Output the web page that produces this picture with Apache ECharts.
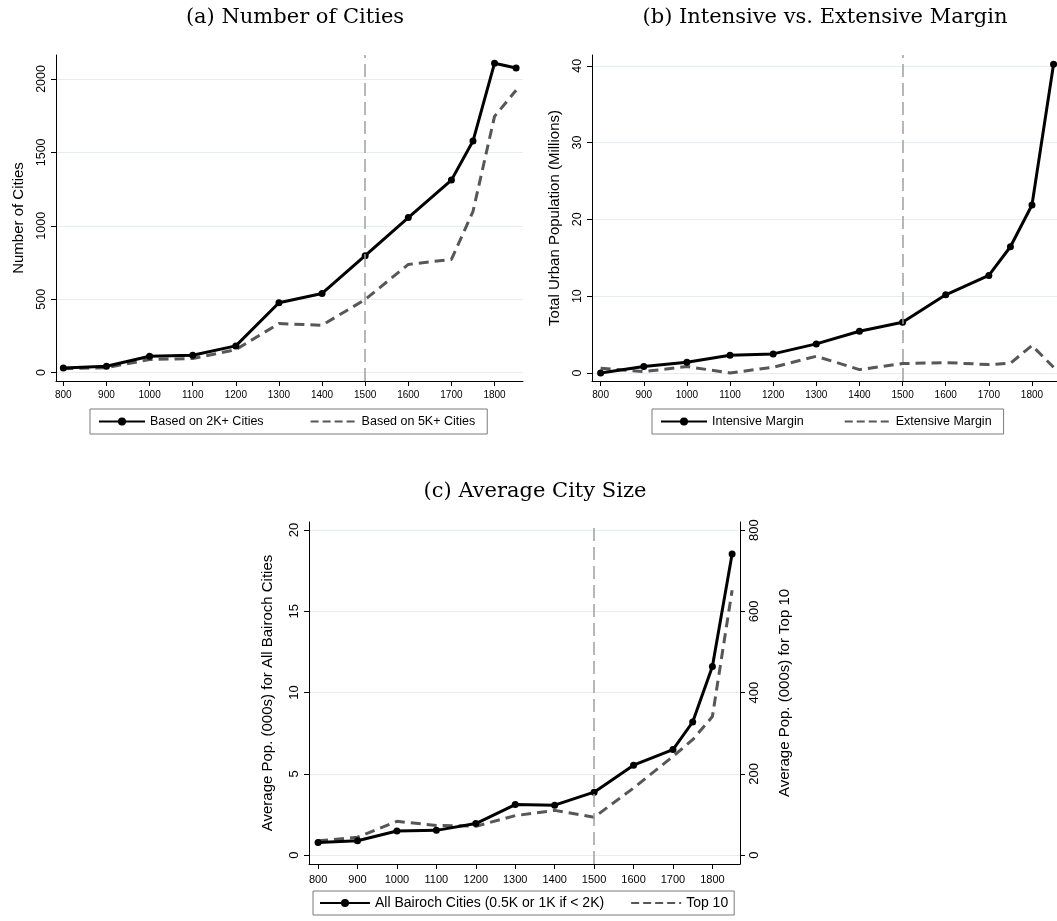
<!DOCTYPE html>
<html>
<head>
<meta charset="utf-8">
<script src="https://cdn.jsdelivr.net/npm/echarts@6.0.0/dist/echarts.min.js"></script>
<style>
  html, body { margin: 0; padding: 0; background: #fff; }
  #chart { width: 1057px; height: 921px; }
</style>
</head>
<body>
<div id="chart"></div>
<script>
// years on the x axis (1750 is an extra point)
var years = [800, 900, 1000, 1100, 1200, 1300, 1400, 1500, 1600, 1700, 1750, 1800, 1850];

// (a) number of cities
var citiesTwoK = [32, 43, 111, 118, 182, 476, 539, 796, 1056, 1311, 1577, 2107, 2075];
var citiesFiveK = [27, 34, 89, 96, 157, 334, 323, 498, 737, 771, 1097, 1745, 1923];

// (b) total urban population, millions
var intensiveMargin = [0, 0.83, 1.39, 2.3, 2.48, 3.78, 5.43, 6.6, 10.17, 12.7, 16.43, 21.87, 40.2];
var extensiveMargin = [0.6, 0.17, 0.83, 0, 0.74, 2.17, 0.43, 1.22, 1.35, 1.09, 1.26, 3.57, 0.74];

// (c) average city size, 000s
var avgAllCities = [0.78, 0.88, 1.48, 1.52, 1.94, 3.11, 3.07, 3.87, 5.53, 6.49, 8.19, 11.6, 18.53];
var avgTopTen = [35, 44, 83, 73, 71, 97, 110, 93, 165, 243, 284, 341, 652];

// tick labels
var xTicks = [800, 900, 1000, 1100, 1200, 1300, 1400, 1500, 1600, 1700, 1800];
var yTicksA = [0, 500, 1000, 1500, 2000];
var yTicksB = [0, 10, 20, 30, 40];
var yTicksC = [0, 5, 10, 15, 20];
var yTicksCRight = [0, 200, 400, 600, 800];

var cutoffYear = 1500;

var SANS = "'Liberation Sans', Arial, sans-serif";
var SERIF = "'DejaVu Serif', serif";

function pairs(vals) {
    return years.map(function (y, i) { return [y, vals[i]]; });
}

// plain numbers, no thousands separator
function plain(v) { return String(v); }

function xAxisCfg(idx, min, max, fs, margin) {
    return {
        type: 'value', gridIndex: idx, min: min, max: max,
        axisLine: { show: true, onZero: false, lineStyle: { color: '#000', width: 1 } },
        axisTick: { show: true, length: 5, customValues: xTicks, lineStyle: { color: '#000' } },
        axisLabel: { customValues: xTicks, formatter: plain, fontSize: fs, fontFamily: SANS, color: '#000', margin: margin },
        splitLine: { show: false }
    };
}

function yAxisCfg(idx, min, max, ticks, name, pos, gap, grid, fs) {
    return {
        type: 'value', gridIndex: idx, min: min, max: max, position: pos,
        name: name, nameLocation: 'middle', nameRotate: 90, nameGap: gap,
        nameTextStyle: { fontSize: 15, fontFamily: SANS, color: '#000' },
        axisLine: { show: true, onZero: false, lineStyle: { color: '#000', width: 1 } },
        axisTick: { show: true, length: 5, customValues: ticks, lineStyle: { color: '#000' } },
        axisLabel: { customValues: ticks, formatter: plain, rotate: 90, fontSize: fs, fontFamily: SANS, color: '#000', margin: 8 },
        splitLine: { show: grid, lineStyle: { color: '#e4edf0', width: 1 } }
    };
}

function solidLine(name, x, y, vals) {
    return {
        type: 'line', name: name, xAxisIndex: x, yAxisIndex: y, data: pairs(vals),
        symbol: 'circle', symbolSize: 7, showSymbol: true,
        lineStyle: { color: '#000', width: 3 }, itemStyle: { color: '#000' }, z: 4
    };
}

function dashedLine(name, x, y, vals) {
    return {
        type: 'line', name: name, xAxisIndex: x, yAxisIndex: y, data: pairs(vals),
        symbol: 'none', showSymbol: false,
        lineStyle: { color: '#575757', width: 3, type: [10, 6] }, itemStyle: { color: '#575757' }, z: 3
    };
}

function cutoff() {
    return {
        silent: true, symbol: ['none', 'none'], animation: false,
        label: { show: false },
        lineStyle: { color: '#a0a0a0', width: 1.5, type: [13, 6] },
        data: [{ xAxis: cutoffYear }]
    };
}

function legendCfg(solidName, dashName, left, top, fs, iw, gap, pad) {
    return {
        // dashed entry: hide the dot the line legend icon adds, shorter dashes
        data: [solidName, { name: dashName, itemStyle: { opacity: 0 }, lineStyle: { type: [8, 4] } }],
        left: left, top: top, orient: 'horizontal',
        itemWidth: iw, itemHeight: 10, itemGap: gap, padding: pad,
        borderColor: '#7a7a7a', borderWidth: 1, borderRadius: 0,
        backgroundColor: '#fff', selectedMode: false,
        textStyle: { fontSize: fs, fontFamily: SANS, color: '#000' }
    };
}

var chart = echarts.init(document.getElementById('chart'));

var s1 = solidLine('Based on 2K+ Cities', 0, 0, citiesTwoK);
s1.markLine = cutoff();
var s3 = solidLine('Intensive Margin', 1, 1, intensiveMargin);
s3.markLine = cutoff();
var s5 = solidLine('All Bairoch Cities (0.5K or 1K if < 2K)', 2, 2, avgAllCities);
s5.markLine = cutoff();

var titleStyle = { fontFamily: SERIF, fontSize: 21, fontWeight: 'normal', color: '#000' };

var option = {
    animation: false,
    backgroundColor: '#fff',
    title: [
        { text: '(a) Number of Cities', left: 290, top: 2, textAlign: 'center', textStyle: titleStyle },
        { text: '(b) Intensive vs. Extensive Margin', left: 820, top: 2, textAlign: 'center', textStyle: titleStyle },
        { text: '(c) Average City Size', left: 530, top: 476, textAlign: 'center', textStyle: titleStyle }
    ],
    grid: [
        { left: 56, top: 55, width: 467, height: 326 },
        { left: 592, top: 55, width: 467, height: 326 },
        { left: 309, top: 522, width: 431, height: 342 }
    ],
    xAxis: [
        xAxisCfg(0, 783, 1866, 10, 9),
        xAxisCfg(1, 780, 1858, 10, 9),
        xAxisCfg(2, 777, 1870, 11, 10)
    ],
    yAxis: [
        yAxisCfg(0, -57, 2163, yTicksA, 'Number of Cities', 'left', 30, true, 12.5),
        yAxisCfg(1, -1.05, 41.4, yTicksB, 'Total Urban Population (Millions)', 'left', 30, true, 12.5),
        yAxisCfg(2, -0.55, 20.5, yTicksC, 'Average Pop. (000s) for All Bairoch Cities', 'left', 34, true, 13),
        yAxisCfg(2, -22, 820, yTicksCRight, 'Average Pop. (000s) for Top 10', 'right', 37, false, 13)
    ],
    legend: [
        legendCfg('Based on 2K+ Cities', 'Based on 5K+ Cities', 90, 409, 12.5, 46, 46, [6, 12, 6, 8]),
        legendCfg('Intensive Margin', 'Extensive Margin', 652, 409, 12.5, 46, 40, [6, 12, 6, 8]),
        legendCfg('All Bairoch Cities (0.5K or 1K if < 2K)', 'Top 10', 313, 891, 14, 50, 26, [5, 6, 5, 6])
    ],
    series: [
        s1,
        dashedLine('Based on 5K+ Cities', 0, 0, citiesFiveK),
        s3,
        dashedLine('Extensive Margin', 1, 1, extensiveMargin),
        s5,
        dashedLine('Top 10', 2, 3, avgTopTen)
    ]
};

chart.setOption(option);
</script>
</body>
</html>
